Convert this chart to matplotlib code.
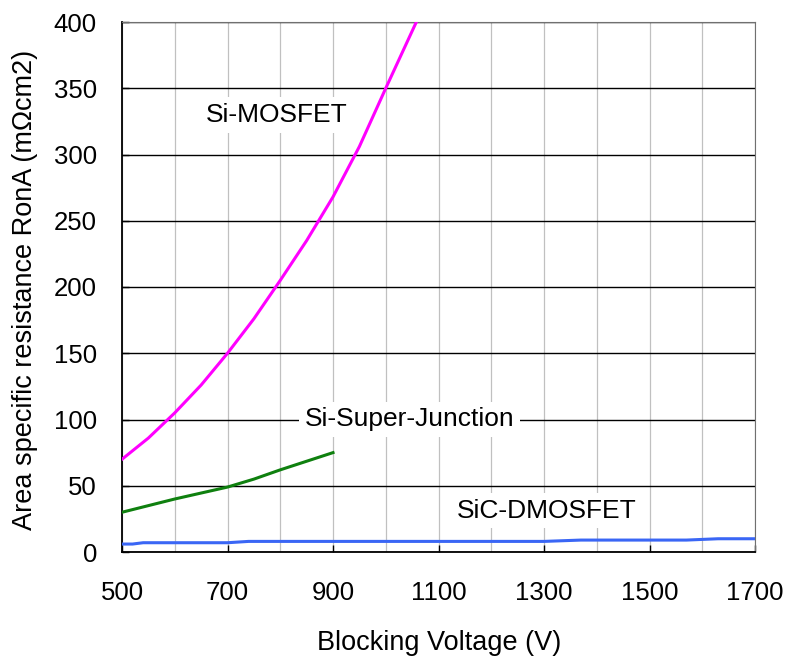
import matplotlib
matplotlib.use("Agg")
import matplotlib.pyplot as plt
from matplotlib.ticker import MultipleLocator

plt.rcParams['font.family'] = ['Liberation Sans', 'DejaVu Sans']

# Data
si_mos_v = [500, 550, 600, 650, 700, 750, 800, 850, 900, 950, 1000, 1058]
si_mos_r = [70, 86, 105, 126, 150, 176, 205, 235, 268, 306, 350, 400]

sj_v = [500, 600, 700, 750, 800, 900]
sj_r = [30, 40, 49, 55, 62, 75]

sic_v = [500, 520, 540, 700, 740, 1300, 1370, 1570, 1630, 1700]
sic_r = [6, 6, 7, 7, 8, 8, 9, 9, 10, 10]

x_ticks = [500, 700, 900, 1100, 1300, 1500, 1700]
y_ticks = [0, 50, 100, 150, 200, 250, 300, 350, 400]

W, H = 786, 656
fig = plt.figure(figsize=(W / 100, H / 100), dpi=100)
L, R, T, B = 122, 755, 22, 552
ax = fig.add_axes([L / W, 1 - B / H, (R - L) / W, (B - T) / H])

ax.plot(si_mos_v, si_mos_r, color='#FF00FF', lw=2.2, zorder=3)
ax.plot(sj_v, sj_r, color='#0F800F', lw=2.2, zorder=3)
ax.plot(sic_v, sic_r, color='#3A66F5', lw=2.2, zorder=3)

ax.set_xlim(500, 1700)
ax.set_ylim(0, 400)
ax.set_xticks(x_ticks)
ax.set_yticks(y_ticks)
ax.xaxis.set_minor_locator(MultipleLocator(100))
ax.grid(which='minor', axis='x', color='#C0C0C0', lw=0.9)
ax.grid(which='major', axis='x', color='#C0C0C0', lw=0.9)
ax.grid(which='major', axis='y', color='black', lw=1.0)
ax.set_axisbelow(True)
ax.tick_params(axis='both', which='major', direction='in', length=5, width=1,
               labelsize=18.5, colors='black')
ax.tick_params(axis='x', which='minor', length=0)
ax.tick_params(axis='x', pad=21)
ax.tick_params(axis='y', pad=18)
for s in ['top', 'right']:
    ax.spines[s].set_color('#707070')
for s in ['left', 'bottom']:
    ax.spines[s].set_color('black')
    ax.spines[s].set_linewidth(1.3)

fig.text(439 / W, 1 - 650 / H, 'Blocking Voltage (V)', fontsize=19.5,
         ha='center', va='baseline')
fig.text(25 / W, 1 - 290 / H, 'Area specific resistance RonA (mΩcm2)',
         fontsize=19.5, rotation=90, ha='center', va='center')

box = dict(facecolor='white', edgecolor='none', pad=4)
ax.text(793, 324.5, 'Si-MOSFET', fontsize=19, ha='center', va='baseline', bbox=box, zorder=2)
ax.text(1045, 95, 'Si-Super-Junction', fontsize=19, ha='center', va='baseline', bbox=box, zorder=2)
ax.text(1305, 25.7, 'SiC-DMOSFET', fontsize=19, ha='center', va='baseline', bbox=box, zorder=2)

fig.savefig('out.png', dpi=100)
